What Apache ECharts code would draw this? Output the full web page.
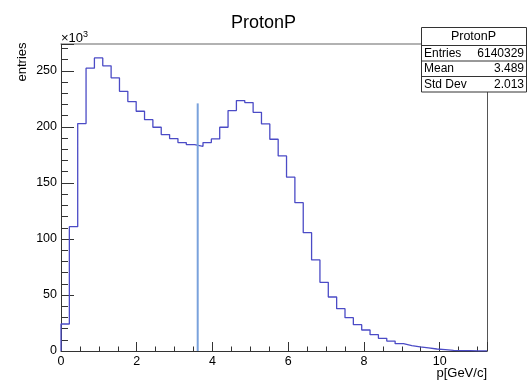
<!DOCTYPE html>
<html>
<head>
<meta charset="utf-8">
<script src="https://cdn.jsdelivr.net/npm/echarts@6/dist/echarts.min.js"></script>
<style>
html,body{margin:0;padding:0;background:#fff;}
#chart{width:527px;height:380px;}
</style>
</head>
<body>
<div id="chart"></div>
<script>
// ---- data ----
var histTitle = 'ProtonP';
var xAxisTitle = 'p[GeV/c]';
var yAxisTitle = 'entries';
var xRange = [0, 11.25];
var yRange = [0, 274];           // in units of 10^3
var xTickLabels = [0, 2, 4, 6, 8, 10];
var yTickLabels = [0, 50, 100, 150, 200, 250];
// bin contents (x10^3), 51 equal-width bins over xRange
var binValues = [
  24.1, 111, 203, 252.4, 261.6, 254.5, 243.8, 231.8, 222.6, 214,
  206.5, 199.7, 193.2, 189.6, 186, 184.2, 182.7, 186, 189.3, 199.7,
  214.6, 223.5, 221.7, 213, 202.7, 189, 174.1, 155.1, 132.4, 105.6,
  81.3, 61.3, 48.2, 37.8, 29.7, 23.5, 18.75, 14.6, 11.3, 8.9,
  6.5, 4.8, 3.6, 2.7, 1.8, 1.2, 0.6, 0.4, 0.3, 0.2, 0.1
];
var markerX = [3.61, 3.61];
var markerY = [0, 221];
var statLabels = ['Entries', 'Mean', 'Std Dev'];
var statValues = ['6140329', '3.489', '2.013'];

// ---- build ----
var nBins = binValues.length;
var bw = (xRange[1] - xRange[0]) / nBins;
var histData = [[xRange[0], 0]];
for (var i = 0; i < nBins; i++) histData.push([xRange[0] + i * bw, binValues[i]]);
histData.push([xRange[1], binValues[nBins - 1]]);
var markerData = markerX.map(function (x, i) { return [x, markerY[i]]; });

var FONT = '"Liberation Sans", Arial, Helvetica, sans-serif';
var chart = echarts.init(document.getElementById('chart'), null, {renderer: 'canvas'});

var BX = 421, BY = 27, BW = 105, TH = 18, RH = 15.5;
var statEls = [
  {type: 'rect', z: 100, shape: {x: BX + 0.5, y: BY + 0.5, width: BW, height: TH + RH * 3}, style: {fill: '#fff', stroke: '#333', lineWidth: 1}},
  {type: 'line', z: 101, shape: {x1: BX, y1: BY + TH + 0.5, x2: BX + BW, y2: BY + TH + 0.5}, style: {stroke: '#333', lineWidth: 1}},
  {type: 'text', z: 101, x: BX + BW / 2, y: BY + TH / 2 + 1, style: {text: histTitle, font: '12.5px ' + FONT, fill: '#000', textAlign: 'center', textVerticalAlign: 'middle'}}
];
for (var r = 0; r < statLabels.length; r++) {
  var yc = BY + TH + RH * r + RH / 2 + 0.5;
  statEls.push({type: 'text', z: 101, x: BX + 3, y: yc, style: {text: statLabels[r], font: '12px ' + FONT, fill: '#000', textAlign: 'left', textVerticalAlign: 'middle'}});
  statEls.push({type: 'text', z: 101, x: BX + BW - 2, y: yc, style: {text: statValues[r], font: '12px ' + FONT, fill: '#000', textAlign: 'right', textVerticalAlign: 'middle'}});
  if (r < statLabels.length - 1) {
    var yl = BY + TH + RH * (r + 1) + 0.5;
    statEls.push({type: 'line', z: 101, shape: {x1: BX, y1: yl, x2: BX + BW, y2: yl}, style: {stroke: '#333', lineWidth: 1}});
  }
}

var option = {
  animation: false,
  backgroundColor: '#fff',
  title: {
    text: histTitle, left: 'center', top: 9,
    textStyle: {fontFamily: FONT, fontSize: 18, fontWeight: 'normal', color: '#000'}
  },
  grid: {left: 61, right: 40, top: 44, bottom: 29, containLabel: false},
  xAxis: [{
    type: 'value', min: xRange[0], max: xRange[1], interval: 2,
    axisLine: {show: true, onZero: false, lineStyle: {color: '#333', width: 1}},
    axisTick: {show: true, inside: true, length: 9, lineStyle: {color: '#333'}},
    minorTick: {show: true, splitNumber: 4, length: 4.5, lineStyle: {color: '#333'}},
    axisLabel: {
      showMaxLabel: false, color: '#000', fontFamily: FONT, fontSize: 12.5, margin: 4,
      formatter: function (v) { return xTickLabels.indexOf(v) >= 0 ? String(v) : ''; }
    },
    splitLine: {show: false}
  }, {
    type: 'value', position: 'top', min: xRange[0], max: xRange[1],
    axisLine: {show: true, onZero: false, lineStyle: {color: '#999', width: 1.5}},
    axisTick: {show: false}, axisLabel: {show: false}, splitLine: {show: false}
  }],
  yAxis: [{
    type: 'value', min: yRange[0], max: yRange[1], interval: 50,
    axisLine: {show: true, onZero: false, lineStyle: {color: '#333', width: 1}},
    axisTick: {show: true, inside: true, length: 13, lineStyle: {color: '#333'}},
    minorTick: {show: true, splitNumber: 5, length: 7, lineStyle: {color: '#333'}},
    axisLabel: {
      showMaxLabel: false, color: '#000', fontFamily: FONT, fontSize: 12.5, margin: 4,
      formatter: function (v) { return yTickLabels.indexOf(v) >= 0 ? String(v) : ''; }
    },
    splitLine: {show: false}
  }, {
    type: 'value', position: 'right', min: yRange[0], max: yRange[1],
    axisLine: {show: true, onZero: false, lineStyle: {color: '#555', width: 1}},
    axisTick: {show: false}, axisLabel: {show: false}, splitLine: {show: false}
  }],
  series: [{
    type: 'line', step: 'end', data: histData, symbol: 'none',
    lineStyle: {color: '#4b4bc6', width: 1.3}, z: 3
  }, {
    type: 'line', data: markerData, symbol: 'none',
    lineStyle: {color: '#7aa2dc', width: 2}, z: 4
  }],
  graphic: [
    {type: 'text', x: 61, y: 38, style: {
      text: '×10{s|3}', font: '13px ' + FONT, fill: '#000', textAlign: 'left', textVerticalAlign: 'middle',
      rich: {s: {fontSize: 9, verticalAlign: 'top', padding: [0, 0, 6, 0], fontFamily: FONT}}
    }},
    {type: 'text', x: 22, y: 62, rotation: Math.PI / 2, style: {
      text: yAxisTitle, font: '13px ' + FONT, fill: '#000', textAlign: 'center', textVerticalAlign: 'middle'
    }},
    {type: 'text', x: 487, y: 373, style: {
      text: xAxisTitle, font: '13px ' + FONT, fill: '#000', textAlign: 'right', textVerticalAlign: 'middle'
    }}
  ].concat(statEls)
};
chart.setOption(option);
</script>
</body>
</html>
